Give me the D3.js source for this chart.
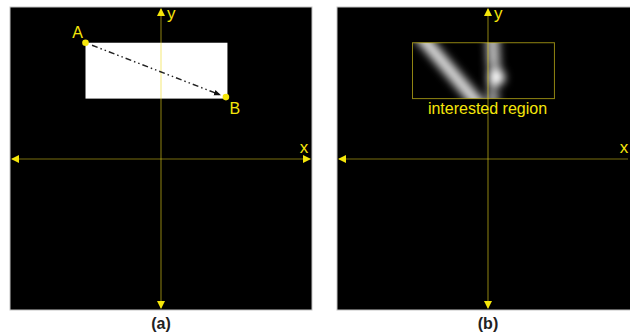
<!DOCTYPE html>
<html>
<head>
<meta charset="utf-8">
<script src="https://cdn.jsdelivr.net/npm/d3@7"></script>
<style>
  html, body { margin: 0; padding: 0; background: #fff; }
  svg { display: block; }
</style>
</head>
<body>
<svg id="fig" width="630" height="336"></svg>
<script>
// Panels and their captions
const panels = ["(a)", "(b)"];
// Axis labels
const axisLabels = ["x", "y"];
// Region of interest in normalised coordinates [x0, x1, y0, y1]
const region = [-0.50, 0.44, 0.40, 0.77];
// Scan path from A to B
const pathPoints = [
  { name: "A", x: -0.50, y: 0.77 },
  { name: "B", x: 0.43, y: 0.41 }
];
// Blurred streaks seen inside the region: [x0, y0, x1, y1, width, grey]
const streaks = [
  [-0.45, 0.82, -0.06, 0.36, 13, 0.75],
  [0.03, 0.82, 0.04, 0.60, 13, 0.62],
  [0.03, 0.60, 0.03, 0.36, 10, 0.40]
];
// Bright spots: [x, y, radius, grey]
const spots = [
  [0.06, 0.54, 8, 1.0],
  [0.04, 0.41, 5, 0.6]
];

const svg = d3.select("#fig");
const yellow = "#f5e60a";
const axisCol = "rgba(240,220,30,0.5)";
const font = "Liberation Sans, Arial, sans-serif";

const defs = svg.append("defs");
defs.append("filter").attr("id", "soft")
  .attr("x", "-50%").attr("y", "-50%").attr("width", "200%").attr("height", "200%")
  .append("feGaussianBlur").attr("stdDeviation", 4.5);
defs.append("marker").attr("id", "arrowB")
  .attr("viewBox", "0 0 10 10").attr("refX", 9).attr("refY", 5)
  .attr("markerWidth", 5).attr("markerHeight", 5).attr("orient", "auto")
  .append("path").attr("d", "M0,1 L10,5 L0,9 Z").attr("fill", "#111");

// Panel frames in page pixels
const frames = [
  { x0: 10, x1: 312, y0: 7, y1: 310, cx: 161, cy: 159 },
  { x0: 337, x1: 639, y0: 7, y1: 310, cx: 488, cy: 159 }
];

panels.forEach((cap, i) => {
  const f = frames[i];
  const sx = d3.scaleLinear().domain([-1, 1]).range([f.cx - 151, f.cx + 151]);
  const sy = d3.scaleLinear().domain([-1, 1]).range([f.cy + 151, f.cy - 151]);
  const g = svg.append("g");

  g.append("rect")
    .attr("x", f.x0).attr("y", f.y0)
    .attr("width", f.x1 - f.x0).attr("height", f.y1 - f.y0)
    .attr("fill", "#000").attr("stroke", "#c4c4c4").attr("stroke-width", 1);

  const rx = sx(region[0]), rw = sx(region[1]) - sx(region[0]);
  const ry = sy(region[3]), rh = sy(region[2]) - sy(region[3]);

  if (i === 0) {
    g.append("rect").attr("x", rx).attr("y", ry).attr("width", rw).attr("height", rh)
      .attr("fill", "#fff");
  } else {
    const clipId = "clipRegion";
    defs.append("clipPath").attr("id", clipId)
      .append("rect").attr("x", rx).attr("y", ry).attr("width", rw).attr("height", rh);
    const blurG = g.append("g").attr("clip-path", `url(#${clipId})`)
      .append("g").attr("filter", "url(#soft)");
    blurG.selectAll("line").data(streaks).join("line")
      .attr("x1", d => sx(d[0])).attr("y1", d => sy(d[1]))
      .attr("x2", d => sx(d[2])).attr("y2", d => sy(d[3]))
      .attr("stroke-width", d => d[4])
      .attr("stroke", d => d3.interpolateGreys(1 - d[5]))
      .attr("stroke-linecap", "round");
    blurG.selectAll("circle").data(spots).join("circle")
      .attr("cx", d => sx(d[0])).attr("cy", d => sy(d[1])).attr("r", d => d[2])
      .attr("fill", d => d3.interpolateGreys(1 - d[3]));
  }

  // axes with arrowheads
  const axes = g.append("g");
  axes.append("line")
    .attr("x1", f.x0 + 2).attr("x2", Math.min(f.x1, 630) - 2)
    .attr("y1", f.cy).attr("y2", f.cy)
    .attr("stroke", axisCol).attr("stroke-width", 1.2);
  axes.append("line")
    .attr("x1", f.cx).attr("x2", f.cx)
    .attr("y1", f.y0 + 2).attr("y2", f.y1 - 2)
    .attr("stroke", axisCol).attr("stroke-width", 1.2);
  const heads = [
    [f.x0 + 1, f.cy, "left"], [f.x1 - 1, f.cy, "right"],
    [f.cx, f.y0 + 1, "up"], [f.cx, f.y1 - 1, "down"]
  ];
  axes.selectAll("path.head").data(heads).join("path").attr("class", "head")
    .attr("fill", yellow)
    .attr("d", d => {
      const [x, y, dir] = d, L = 8, W = 4;
      if (dir === "left") return `M${x},${y} L${x + L},${y - W} L${x + L},${y + W} Z`;
      if (dir === "right") return `M${x},${y} L${x - L},${y - W} L${x - L},${y + W} Z`;
      if (dir === "up") return `M${x},${y} L${x - W},${y + L} L${x + W},${y + L} Z`;
      return `M${x},${y} L${x - W},${y - L} L${x + W},${y - L} Z`;
    });

  g.append("text").text(axisLabels[0])
    .attr("x", Math.min(f.x1 - 8, 624)).attr("y", f.cy - 6).attr("text-anchor", "middle")
    .attr("font-family", font).attr("font-size", 17)
    .attr("fill", yellow);
  g.append("text").text(axisLabels[1])
    .attr("x", f.cx + 6).attr("y", f.y0 + 12)
    .attr("font-family", font).attr("font-size", 17)
    .attr("fill", yellow);

  if (i === 0) {
    const a = pathPoints[0], b = pathPoints[1];
    const ax = sx(a.x), ay = sy(a.y), bx = sx(b.x), by = sy(b.y);
    const len = Math.hypot(bx - ax, by - ay);
    const ux = (bx - ax) / len, uy = (by - ay) / len;
    g.append("line")
      .attr("x1", ax + ux * 7).attr("y1", ay + uy * 7)
      .attr("x2", bx - ux * 6).attr("y2", by - uy * 6)
      .attr("stroke", "#222").attr("stroke-width", 1.4)
      .attr("stroke-dasharray", "6,3,1.5,3,1.5,3")
      .attr("marker-end", "url(#arrowB)");
    g.selectAll("circle.pt").data(pathPoints).join("circle").attr("class", "pt")
      .attr("cx", d => sx(d.x)).attr("cy", d => sy(d.y)).attr("r", 3.3)
      .attr("fill", yellow);
    g.selectAll("text.pt").data(pathPoints).join("text").attr("class", "pt")
      .text(d => d.name)
      .attr("x", (d, k) => sx(d.x) + (k === 0 ? -8 : 9))
      .attr("y", (d, k) => sy(d.y) + (k === 0 ? -5 : 17))
      .attr("text-anchor", "middle")
      .attr("font-family", font).attr("font-size", 16)
      .attr("fill", yellow);
  } else {
    g.append("rect").attr("x", rx).attr("y", ry).attr("width", rw).attr("height", rh)
      .attr("fill", "none").attr("stroke", "rgba(240,220,30,0.6)").attr("stroke-width", 1);
    g.append("text").text("interested region")
      .attr("x", rx + rw / 2 + 4).attr("y", ry + rh + 15).attr("text-anchor", "middle")
      .attr("font-family", font).attr("font-size", 16)
      .attr("fill", yellow);
  }

  svg.append("text").text(cap)
    .attr("x", f.cx).attr("y", 329).attr("text-anchor", "middle")
    .attr("font-family", font).attr("font-size", 16)
    .attr("font-weight", "bold").attr("fill", "#222");
});
</script>
</body>
</html>
